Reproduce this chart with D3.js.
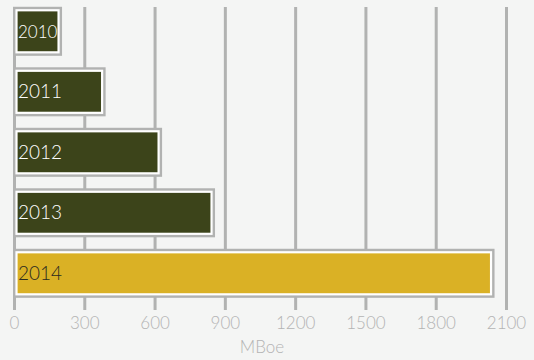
<!DOCTYPE html>
<html>
<head>
<meta charset="utf-8">
<script src="https://cdn.jsdelivr.net/npm/d3@7"></script>
<style>
  html, body { margin: 0; padding: 0; background: #f4f5f4; }
  svg { display: block; font-family: Lato, "Open Sans", sans-serif; }
</style>
</head>
<body>
<div id="chart-container"></div>
<script>
const years = ['2010', '2011', '2012', '2013', '2014'];
const values = [188, 374, 615, 841, 2034];
const xTicks = [0, 300, 600, 900, 1200, 1500, 1800, 2100];
const axisTitle = 'MBoe';

const width = 534;
const height = 360;
const gridColor = '#b1b2b1';
const darkBar = '#3c441a';
const goldBar = '#dab125';

const svg = d3.select('#chart-container')
    .append('svg')
    .attr('width', width)
    .attr('height', height);

svg.append('rect')
    .attr('width', width)
    .attr('height', height)
    .attr('fill', '#f4f5f4');

const xScale = d3.scaleLinear([0, 2100], [14.5, 506.5]);
const yScale = d3.scaleBand(years, [0, 304.6])
    .paddingInner(0.305)
    .paddingOuter(0.17);

// Grid lines + ticks
svg.append('g')
    .selectAll('line')
    .data(xTicks)
    .join('line')
      .attr('x1', d => xScale(d))
      .attr('x2', d => xScale(d))
      .attr('y1', 7)
      .attr('y2', 310)
      .attr('stroke', gridColor)
      .attr('stroke-width', 3);

// Tick labels
svg.append('g')
    .selectAll('text')
    .data(xTicks)
    .join('text')
      .text(d => d)
      .attr('x', d => xScale(d))
      .attr('y', 329)
      .attr('text-anchor', 'middle')
      .attr('font-size', 17)
      .attr('font-weight', 300)
      .attr('fill', '#b3b3b3');

svg.append('text')
    .text(axisTitle)
    .attr('x', 262)
    .attr('y', 353)
    .attr('text-anchor', 'middle')
    .attr('font-size', 17)
    .attr('font-weight', 300)
    .attr('fill', '#b3b3b3');

// Bars: gray outline, white inner edge, fill
const barX = xScale(0) + 2;
const bars = svg.append('g')
    .selectAll('g')
    .data(years)
    .join('g');

bars.append('rect')
    .attr('x', barX)
    .attr('y', d => yScale(d))
    .attr('width', (d, i) => xScale(values[i]) - barX)
    .attr('height', yScale.bandwidth())
    .attr('fill', 'none')
    .attr('stroke', gridColor)
    .attr('stroke-width', 7);

bars.append('rect')
    .attr('x', barX)
    .attr('y', d => yScale(d))
    .attr('width', (d, i) => xScale(values[i]) - barX)
    .attr('height', yScale.bandwidth())
    .attr('fill', (d, i) => i === years.length - 1 ? goldBar : darkBar)
    .attr('stroke', '#ffffff')
    .attr('stroke-width', 2.2);

bars.append('text')
    .text(d => d)
    .attr('x', 18)
    .attr('y', d => yScale(d) + yScale.bandwidth() / 2 + 6.5)
    .attr('font-size', (d, i) => i === 0 ? 17 : 19)
    .attr('font-weight', 300)
    .attr('fill', (d, i) => i === years.length - 1 ? '#2b2b20' : '#ffffff');
</script>
</body>
</html>
